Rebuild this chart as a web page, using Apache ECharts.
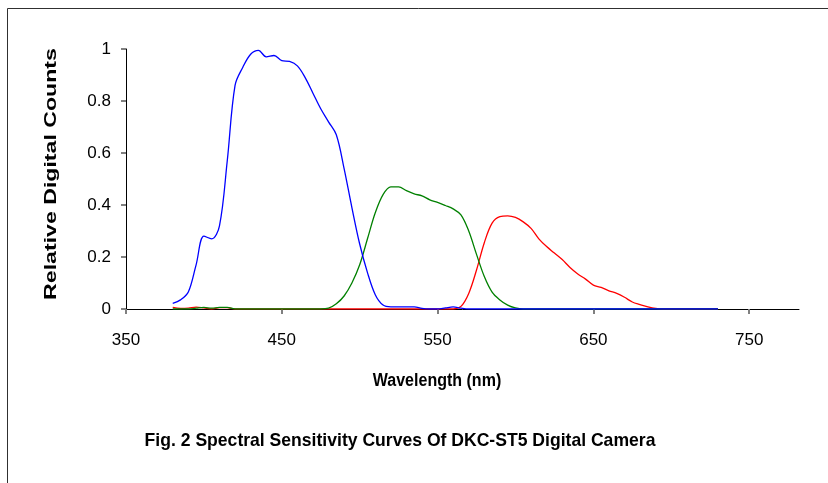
<!DOCTYPE html>
<html>
<head>
<meta charset="utf-8">
<script src="https://cdn.jsdelivr.net/npm/echarts@6/dist/echarts.min.js"></script>
<style>
  html, body { margin: 0; padding: 0; background: #fff; }
  #chart { width: 828px; height: 483px; }
</style>
</head>
<body>
<div id="chart"></div>
<script>
// Wavelength samples (nm)
const wavelengths = [
  380, 385, 390, 395, 400, 405, 410, 415, 420, 425, 430, 435, 440, 445, 450, 455,
  460, 465, 470, 475, 480, 485, 490, 495, 500, 505, 510, 515, 520, 525, 530, 535,
  540, 545, 550, 555, 560, 565, 570, 575, 580, 585, 590, 595, 600, 605, 610, 615,
  620, 625, 630, 635, 640, 645, 650, 655, 660, 665, 670, 675, 680, 685, 690, 695,
  700, 705, 710, 715, 720, 725, 730
];

// Relative digital counts per channel
const blueCounts = [
  0.022, 0.035, 0.065, 0.17, 0.28, 0.27, 0.32, 0.57, 0.86, 0.93, 0.98, 0.995, 0.97, 0.975, 0.955, 0.952,
  0.935, 0.89, 0.83, 0.77, 0.72, 0.67, 0.54, 0.39, 0.25, 0.14, 0.055, 0.015, 0.008, 0.008, 0.008, 0.008,
  0.002, 0, 0, 0.004, 0.008, 0.003, 0, 0, 0, 0, 0, 0, 0, 0, 0, 0,
  0, 0, 0, 0, 0, 0, 0, 0, 0, 0, 0, 0, 0, 0, 0, 0,
  0, 0, 0, 0, 0, 0, 0
];
const greenCounts = [
  0, 0, 0, 0.003, 0.006, 0.003, 0.006, 0.006, 0, 0, 0, 0, 0, 0, 0, 0,
  0, 0, 0, 0, 0.003, 0.02, 0.05, 0.1, 0.17, 0.27, 0.37, 0.44, 0.47, 0.47, 0.455, 0.443,
  0.435, 0.42, 0.41, 0.398, 0.385, 0.362, 0.3, 0.21, 0.125, 0.065, 0.035, 0.015, 0.004, 0, 0, 0,
  0, 0, 0, 0, 0, 0, 0, 0, 0, 0, 0, 0, 0, 0, 0, 0,
  0, 0, 0, 0, 0, 0, 0
];
const redCounts = [
  0.006, 0.002, 0.003, 0.007, 0.004, 0, 0.005, 0.005, 0, 0, 0, 0, 0, 0, 0, 0,
  0, 0, 0, 0, 0, 0, 0, 0, 0, 0, 0, 0, 0, 0, 0, 0,
  0, 0, 0, 0, 0, 0.01, 0.06, 0.15, 0.255, 0.33, 0.355, 0.358, 0.352, 0.335, 0.31, 0.27,
  0.24, 0.215, 0.19, 0.16, 0.135, 0.115, 0.092, 0.083, 0.07, 0.06, 0.045, 0.027, 0.017, 0.008,
  0.002, 0, 0, 0, 0, 0, 0, 0, 0
];

const xTicks = [350, 450, 550, 650, 750];
const yTicks = [0, 0.2, 0.4, 0.6, 0.8, 1];

const pairs = (ys) => wavelengths.map((w, i) => [w, ys[i]]);

const chart = echarts.init(document.getElementById('chart'), null, { renderer: 'canvas' });

const labelFont = { fontFamily: 'Liberation Sans, Arial, sans-serif', fontSize: 17, color: '#000' };

function lineSeries(name, color, ys) {
  return {
    name: name,
    type: 'line',
    data: pairs(ys),
    smooth: 0.35,
    showSymbol: false,
    lineStyle: { color: color, width: 1.3 },
    itemStyle: { color: color },
    animation: false
  };
}

function boldText(text, x, y, size, sx) {
  return {
    type: 'text',
    x: x, y: y,
    scaleX: sx,
    style: {
      text: text,
      font: 'bold ' + size + 'px "Liberation Sans", Arial, sans-serif',
      fill: '#000',
      align: 'center',
      verticalAlign: 'middle'
    }
  };
}

chart.setOption({
  backgroundColor: '#fff',
  animation: false,
  grid: { left: 126, right: 29, top: 49, bottom: 174, containLabel: false },
  xAxis: {
    type: 'value',
    min: xTicks[0],
    max: 782,
    interval: 100,
    axisLine: { lineStyle: { color: '#000', width: 1 } },
    axisTick: { show: true, length: 5, lineStyle: { color: '#808080', width: 2 } },
    axisLabel: Object.assign({ margin: 23, showMaxLabel: false }, labelFont),
    splitLine: { show: false }
  },
  yAxis: {
    type: 'value',
    min: yTicks[0],
    max: yTicks[yTicks.length - 1],
    interval: 0.2,
    axisLine: { show: true, lineStyle: { color: '#000', width: 1 } },
    axisTick: { show: true, length: 5, lineStyle: { color: '#808080', width: 2 } },
    axisLabel: Object.assign({ margin: 15 }, labelFont),
    splitLine: { show: false }
  },
  series: [
    lineSeries('Red', '#ff0000', redCounts),
    lineSeries('Green', '#008000', greenCounts),
    lineSeries('Blue', '#0000ff', blueCounts)
  ],
  graphic: [
    {
      type: 'rect',
      shape: { x: 7.5, y: 8.5, width: 900, height: 600 },
      style: { fill: null, stroke: '#303030', lineWidth: 1 },
      silent: true
    },
    {
      type: 'text',
      x: 51, y: 174,
      rotation: Math.PI / 2,
      scaleX: 1.36,
      style: {
        text: 'Relative Digital Counts',
        font: 'bold 17px "Liberation Sans", Arial, sans-serif',
        fill: '#000',
        align: 'center',
        verticalAlign: 'middle'
      }
    },
    boldText('Wavelength (nm)', 437, 381, 18, 0.89),
    boldText('Fig. 2 Spectral Sensitivity Curves Of DKC-ST5 Digital Camera', 400, 441, 19, 0.925)
  ]
});
</script>
</body>
</html>
